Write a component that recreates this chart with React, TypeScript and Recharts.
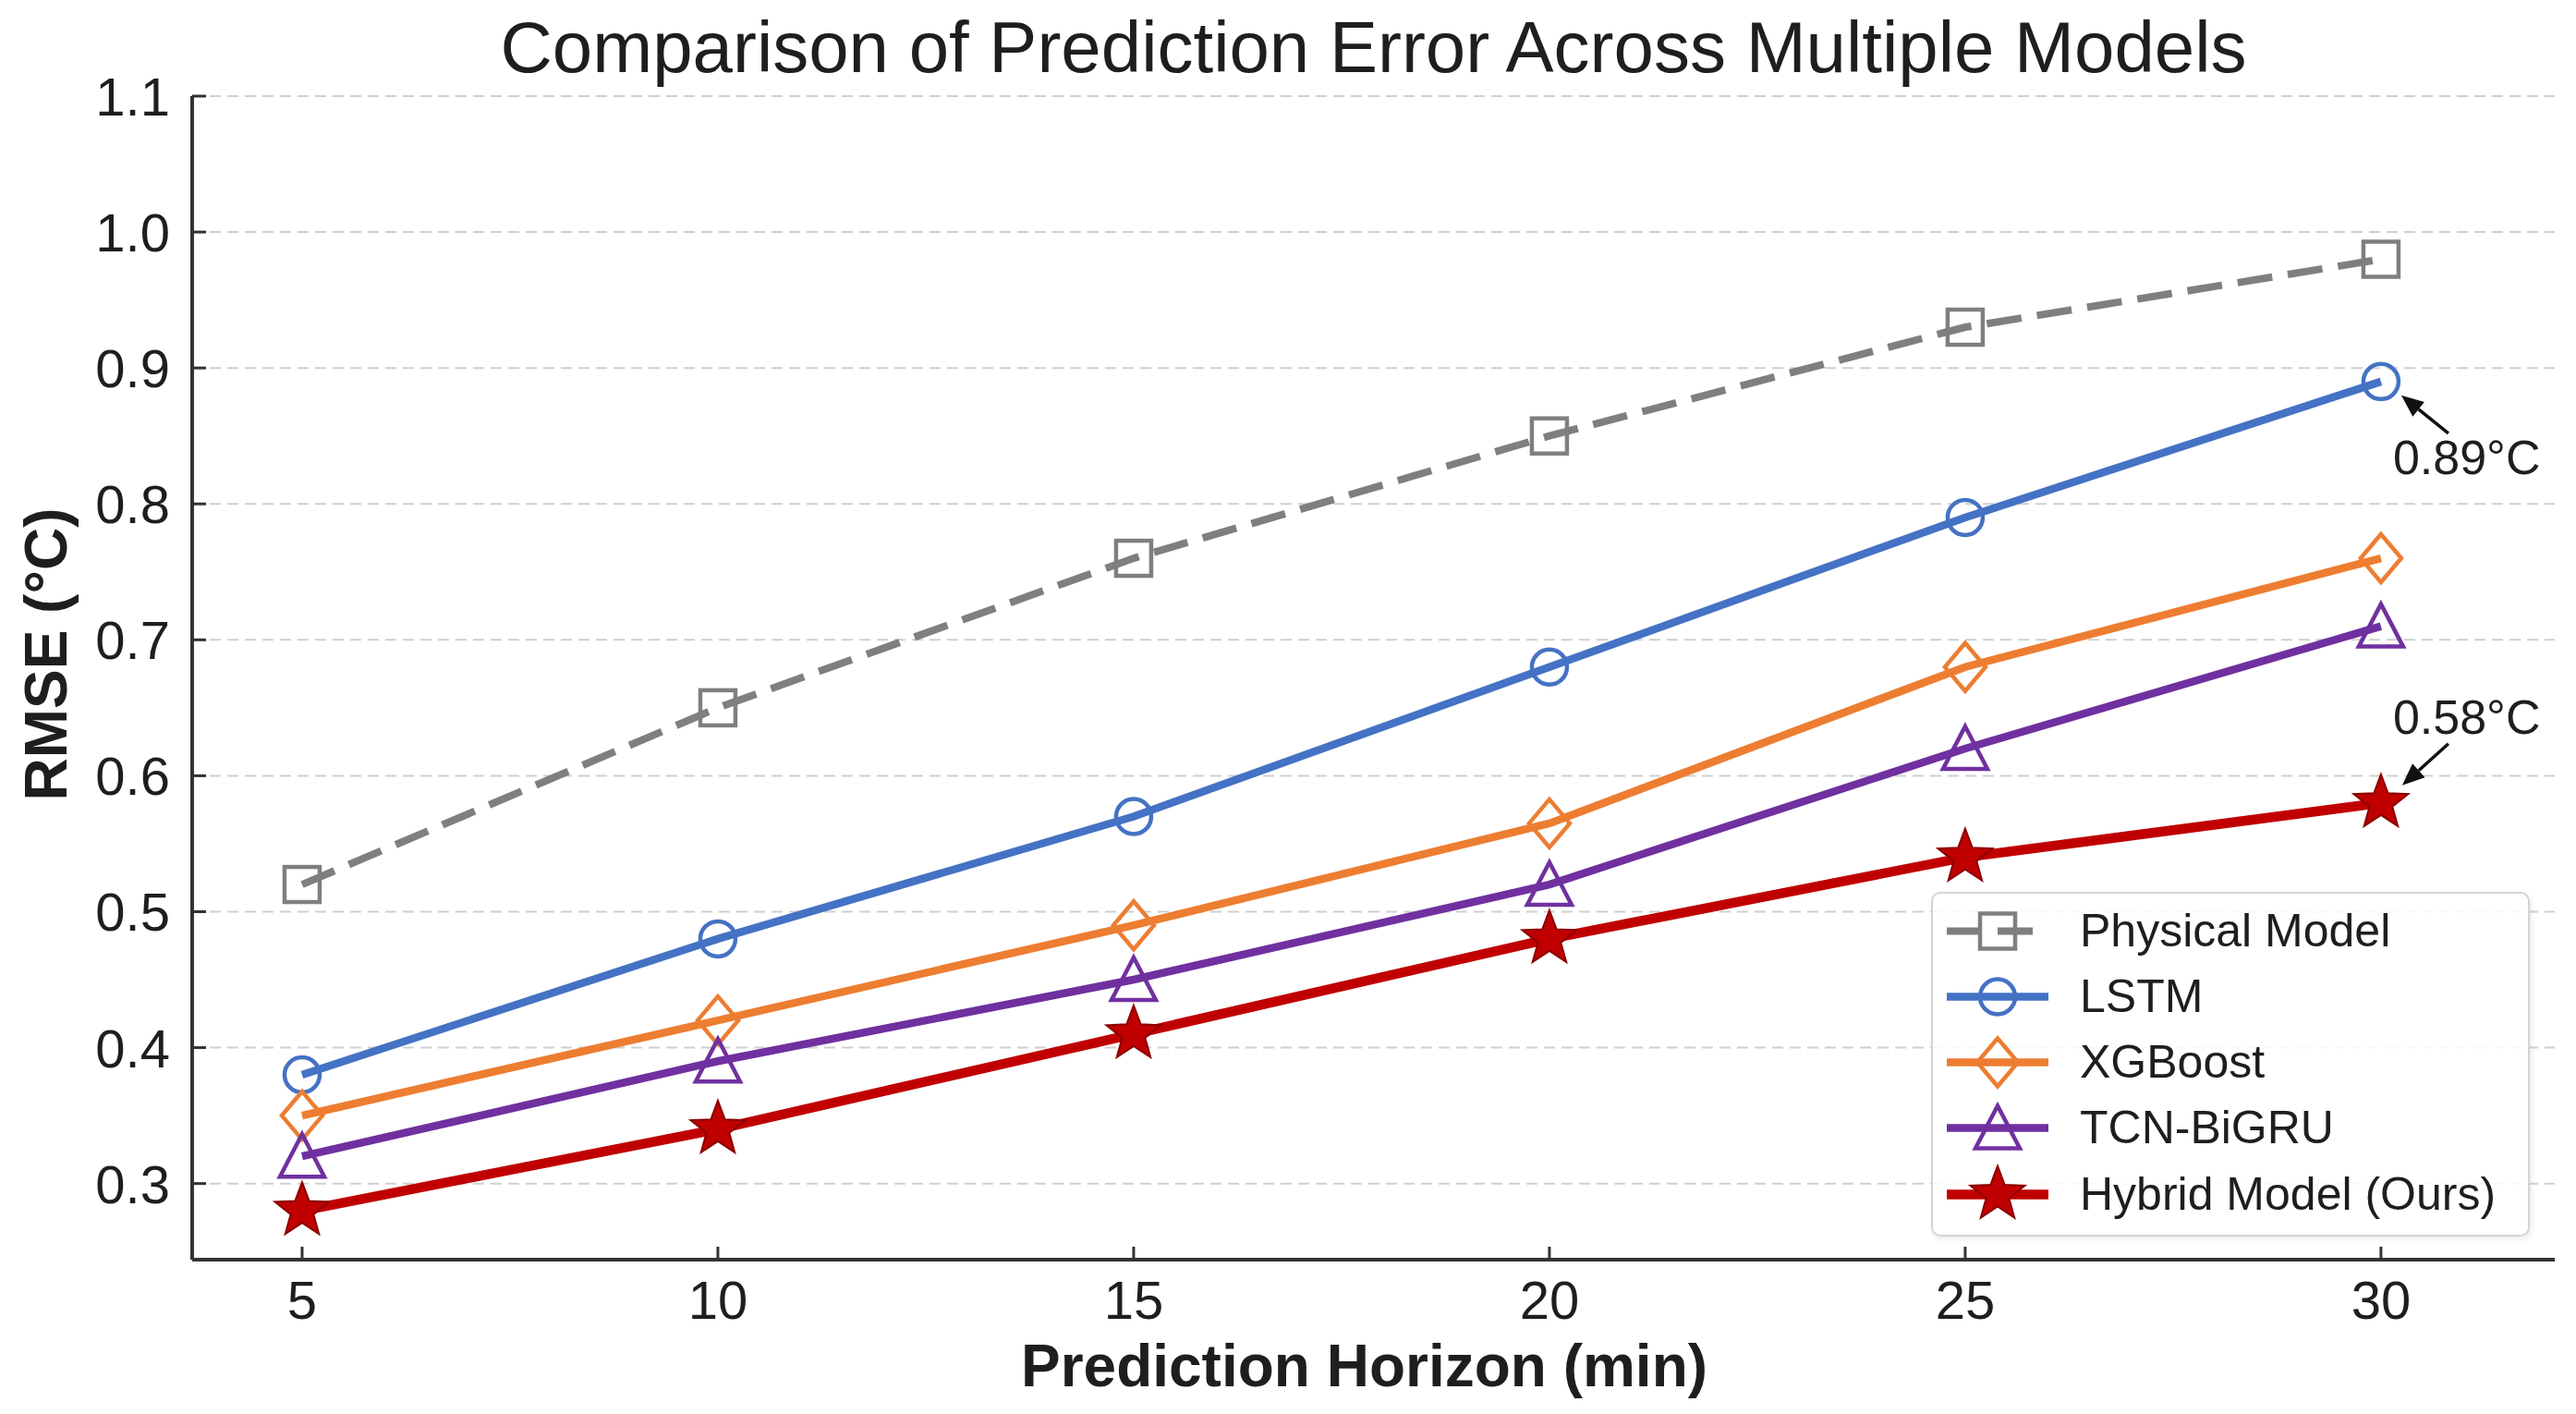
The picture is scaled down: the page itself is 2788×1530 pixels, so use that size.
import React from "react";
import {
  LineChart, Line, XAxis, YAxis, CartesianGrid, Legend, ReferenceDot, Label,
} from "recharts";

// prediction horizons (min) and RMSE (°C) per model
const HORIZONS = [5, 10, 15, 20, 25, 30];
const PHYSICAL = [0.52, 0.65, 0.76, 0.85, 0.93, 0.98];
const LSTM = [0.38, 0.48, 0.57, 0.68, 0.79, 0.89];
const XGBOOST = [0.35, 0.42, 0.49, 0.565, 0.68, 0.76];
const TCN_BIGRU = [0.32, 0.39, 0.45, 0.52, 0.62, 0.71];
const HYBRID = [0.28, 0.34, 0.41, 0.48, 0.54, 0.58];

const X_TICKS = [5, 10, 15, 20, 25, 30];
const Y_TICKS = [0.3, 0.4, 0.5, 0.6, 0.7, 0.8, 0.9, 1.0, 1.1];

const CALLOUTS = [
  { x: 30, y: 0.89, text: "0.89°C", side: "below" },
  { x: 30, y: 0.58, text: "0.58°C", side: "above" },
];

const DATA = HORIZONS.map((h, i) => ({
  h,
  physical: PHYSICAL[i],
  lstm: LSTM[i],
  xgboost: XGBOOST[i],
  tcn: TCN_BIGRU[i],
  hybrid: HYBRID[i],
}));

const SERIES = [
  { key: "physical", name: "Physical Model", color: "#7f7f7f", marker: "square", dash: "38 17", width: 8 },
  { key: "lstm", name: "LSTM", color: "#4472C4", marker: "circle", dash: undefined, width: 8.5 },
  { key: "xgboost", name: "XGBoost", color: "#ED7D31", marker: "diamond", dash: undefined, width: 8.5 },
  { key: "tcn", name: "TCN-BiGRU", color: "#7030A0", marker: "triangle", dash: undefined, width: 8.5 },
  { key: "hybrid", name: "Hybrid Model (Ours)", color: "#C00000", marker: "star", dash: undefined, width: 10.5 },
];

const FONT = "'Liberation Sans', Arial, Helvetica, sans-serif";
const TEXT = "#1e1e1e";

function starPoints(cx: number, cy: number, ro: number, ri: number) {
  const pts: string[] = [];
  for (let i = 0; i < 10; i++) {
    const r = i % 2 === 0 ? ro : ri;
    const a = -Math.PI / 2 + (i * Math.PI) / 5;
    pts.push(`${cx + r * Math.cos(a)},${cy + r * Math.sin(a)}`);
  }
  return pts.join(" ");
}

function Marker({ type, cx, cy, color }: { type: string; cx: number; cy: number; color: string }) {
  const sw = 4.5;
  switch (type) {
    case "square":
      return <rect x={cx - 19} y={cy - 19} width={38} height={38} fill="none" stroke={color} strokeWidth={sw} />;
    case "circle":
      return <circle cx={cx} cy={cy} r={19} fill="none" stroke={color} strokeWidth={sw} />;
    case "diamond":
      return (
        <polygon
          points={`${cx},${cy - 26} ${cx + 22},${cy} ${cx},${cy + 26} ${cx - 22},${cy}`}
          fill="none" stroke={color} strokeWidth={sw}
        />
      );
    case "triangle":
      return (
        <polygon
          points={`${cx},${cy - 24} ${cx + 24},${cy + 22} ${cx - 24},${cy + 22}`}
          fill="none" stroke={color} strokeWidth={sw} strokeLinejoin="miter"
        />
      );
    default:
      return <polygon points={starPoints(cx, cy, 31, 13)} fill={color} stroke="#8a0000" strokeWidth={2} />;
  }
}

const XTick = (props: any) => {
  const { x, y, payload } = props;
  return (
    <g>
      <line x1={x} x2={x} y1={y} y2={y - 14} stroke="#333" strokeWidth={3} />
      <text x={x} y={y + 64} textAnchor="middle" fontSize={58} fontFamily={FONT} fill={TEXT}>
        {payload.value}
      </text>
    </g>
  );
};

const YTick = (props: any) => {
  const { x, y, payload } = props;
  return (
    <g>
      <line x1={x} x2={x + 15} y1={y} y2={y} stroke="#333" strokeWidth={3} />
      <text x={x - 24} y={y + 21} textAnchor="end" fontSize={58} fontFamily={FONT} fill={TEXT}>
        {Number(payload.value).toFixed(1)}
      </text>
    </g>
  );
};

const XTitle = (props: any) => {
  const vb = props.viewBox;
  return (
    <text x={vb.x + vb.width / 2 - 10} y={vb.y + 137} textAnchor="middle" fontSize={64}
      fontWeight="bold" fontFamily={FONT} fill={TEXT}>
      Prediction Horizon (min)
    </text>
  );
};

const YTitle = () => (
  <text x={72} y={708} transform="rotate(-90 72 708)" textAnchor="middle" fontSize={64}
    fontWeight="bold" fontFamily={FONT} fill={TEXT}>
    RMSE (°C)
  </text>
);

function Callout(props: any) {
  const { cx, cy, text, side } = props;
  const below = side === "below";
  const tail = below ? [cx + 73, cy + 56] : [cx + 73, cy - 64];
  const tip = below ? [cx + 22, cy + 15] : [cx + 23, cy - 19];
  const ang = Math.atan2(tip[1] - tail[1], tip[0] - tail[0]);
  const len = 24, hw = 10;
  const bx = tip[0] - len * Math.cos(ang), by = tip[1] - len * Math.sin(ang);
  const px = -Math.sin(ang) * hw, py = Math.cos(ang) * hw;
  return (
    <g>
      <line x1={tail[0]} y1={tail[1]} x2={bx} y2={by} stroke="#111" strokeWidth={3.5} />
      <polygon points={`${tip[0]},${tip[1]} ${bx + px},${by + py} ${bx - px},${by - py}`} fill="#111" />
      <text x={cx + 13} y={below ? cy + 100 : cy - 75} fontSize={52} fontFamily={FONT} fill={TEXT}>
        {text}
      </text>
    </g>
  );
}

function LegendBox() {
  return (
    <div style={{
      position: "relative", width: 648, height: 373, boxSizing: "border-box",
      border: "2px solid #d4d4d4", borderRadius: 10, background: "rgba(255,255,255,0.85)",
      boxShadow: "2px 3px 6px rgba(0,0,0,0.08)", fontFamily: FONT,
    }}>
      {SERIES.map((s, i) => (
        <div key={s.key} style={{
          position: "absolute", left: 0, top: 40 + i * 71.25 - 35.5, height: 71, display: "flex", alignItems: "center",
        }}>
          <svg width={150} height={71} style={{ display: "block" }}>
            <line x1={15} x2={125} y1={35.5} y2={35.5} stroke={s.color} strokeWidth={s.width}
              strokeDasharray={s.dash} />
            <Marker type={s.marker} cx={70} cy={35.5} color={s.color} />
          </svg>
          <span style={{ fontSize: 50, lineHeight: "71px", color: TEXT, marginLeft: 9, whiteSpace: "nowrap" }}>
            {s.name}
          </span>
        </div>
      ))}
    </div>
  );
}

export default function App() {
  return (
    <div style={{ position: "absolute", left: 0, top: 0, width: 2788, height: 1530, background: "#fff" }}>
      <div style={{
        position: "absolute", left: 208, top: 12, width: 2557, textAlign: "center",
        fontFamily: FONT, fontSize: 78, lineHeight: 1, color: TEXT,
      }}>
        Comparison of Prediction Error Across Multiple Models
      </div>
      <LineChart width={2788} height={1530} data={DATA} margin={{ top: 104, right: 23, bottom: 0, left: 0 }}>
        <CartesianGrid vertical={false} stroke="#cfcfcf" strokeWidth={2} strokeDasharray="12 7" />
        <XAxis
          type="number" dataKey="h" domain={[3.678, 32.09]} allowDataOverflow ticks={X_TICKS}
          height={167} tickSize={0} tickMargin={0} tick={<XTick />}
          axisLine={{ stroke: "#333", strokeWidth: 4 }} tickLine={false}
        >
          <Label content={<XTitle />} />
        </XAxis>
        <YAxis
          type="number" domain={[0.244, 1.1]} allowDataOverflow ticks={Y_TICKS}
          width={208} tickSize={0} tickMargin={0} tick={<YTick />}
          axisLine={{ stroke: "#333", strokeWidth: 4 }} tickLine={false}
        >
          <Label content={<YTitle />} />
        </YAxis>
        {SERIES.map((s) => (
          <Line
            key={s.key}
            type="linear"
            dataKey={s.key}
            name={s.name}
            stroke={s.color}
            strokeWidth={s.width}
            strokeDasharray={s.dash}
            isAnimationActive={false}
            activeDot={false}
            dot={(p: any) => (
              <Marker key={`${s.key}-${p.index}`} type={s.marker} cx={p.cx} cy={p.cy} color={s.color} />
            )}
          />
        ))}
        {CALLOUTS.map((c) => (
          <ReferenceDot
            key={c.text}
            x={c.x}
            y={c.y}
            r={0}
            ifOverflow="visible"
            shape={(p: any) => <Callout {...p} text={c.text} side={c.side} />}
          />
        ))}
        <Legend
          layout="vertical"
          align="center"
          verticalAlign="middle"
          content={() => <LegendBox />}
          wrapperStyle={{ left: 2090, top: 965, width: 648, height: 373 }}
        />
      </LineChart>
    </div>
  );
}
